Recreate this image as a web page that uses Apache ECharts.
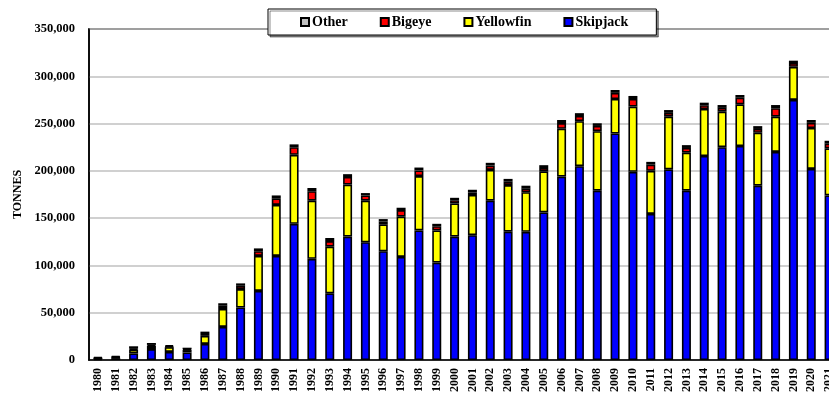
<!DOCTYPE html>
<html>
<head>
<meta charset="utf-8">
<script src="https://cdn.jsdelivr.net/npm/echarts@6/dist/echarts.min.js"></script>
<style>
  html, body { margin: 0; padding: 0; background: #fff; overflow: hidden; }
  #chart { width: 829px; height: 394px; }
</style>
</head>
<body>
<div id="chart"></div>
<script>
// Annual catch by species, tonnes
const years = ['1980','1981','1982','1983','1984','1985','1986','1987','1988','1989',
  '1990','1991','1992','1993','1994','1995','1996','1997','1998','1999',
  '2000','2001','2002','2003','2004','2005','2006','2007','2008','2009',
  '2010','2011','2012','2013','2014','2015','2016','2017','2018','2019',
  '2020','2021'];

const skipjack = [1200, 2000, 7000, 11500, 8500, 8000, 17000, 35000, 55500, 73000,
  110000, 144000, 107000, 70500, 130500, 124500, 115000, 109000, 137000, 103000,
  130500, 132000, 168500, 135700, 135500, 156000, 194000, 205000, 179000, 239500,
  199000, 154500, 201600, 179000, 215700, 225000, 226300, 184300, 220000, 275000,
  202000, 174000];

const yellowfin = [500, 800, 4000, 3500, 5000, 2500, 8500, 19000, 19500, 37000,
  54000, 73000, 61500, 49300, 55000, 44000, 28500, 42500, 57500, 34000,
  35000, 42500, 32500, 49300, 42000, 43500, 50500, 47500, 63000, 36500,
  69000, 45500, 55700, 40200, 49700, 37600, 44000, 56000, 37300, 35000,
  43300, 49800];

const bigeye = [300, 400, 1000, 1000, 800, 800, 2000, 3500, 3500, 5000,
  7000, 8000, 10000, 6000, 8000, 5500, 3000, 7000, 6000, 4500,
  3500, 2500, 4500, 3500, 4000, 3500, 6000, 5500, 5500, 6500,
  8000, 6500, 4000, 5000, 4000, 4000, 7000, 4000, 9000, 4000,
  5500, 5000];

const other = [1000, 1000, 2500, 2000, 1200, 1700, 2500, 2500, 2500, 3000,
  3000, 3000, 3500, 3200, 3000, 2500, 2500, 2500, 3000, 2500,
  2500, 3000, 3000, 3000, 2800, 3000, 3300, 3000, 2800, 3000,
  3200, 3000, 3000, 3000, 2700, 3000, 2900, 3000, 3300, 2500,
  3000, 3000];

const yTicks = { min: 0, max: 350000, interval: 50000 };

const FONT = '"Liberation Serif", "Times New Roman", serif';

function barSeries(name, data, color) {
  return {
    name: name,
    type: 'bar',
    stack: 'catch',
    data: data,
    barWidth: 9,
    itemStyle: { color: color, borderColor: '#000', borderWidth: 1.6 },
    emphasis: { disabled: true }
  };
}

const chart = echarts.init(document.getElementById('chart'), null, { renderer: 'canvas' });

chart.setOption({
  animation: false,
  backgroundColor: '#fff',
  textStyle: { fontFamily: FONT },
  // plot area runs past the right edge of the canvas, clipping the last year
  grid: {
    left: 89, right: -9, top: 29, bottom: 34,
    outerBoundsMode: 'none',
    containLabel: false,
    show: true, borderColor: '#000', borderWidth: 1.5, backgroundColor: 'transparent'
  },
  legend: {
    data: ['Other', 'Bigeye', 'Yellowfin', 'Skipjack'],
    left: 268, top: 9,
    padding: [6, 28, 6, 32],
    itemGap: 32,
    itemWidth: 8, itemHeight: 8,
    icon: 'rect',
    backgroundColor: '#fff',
    borderColor: '#000', borderWidth: 1,
    shadowColor: 'rgba(0,0,0,0.45)', shadowOffsetX: 2, shadowOffsetY: 2, shadowBlur: 0,
    textStyle: { fontFamily: FONT, fontSize: 14, fontWeight: 'bold', color: '#000', padding: [0, 0, 0, -2] }
  },
  xAxis: {
    type: 'category',
    data: years,
    axisLine: { lineStyle: { color: '#000', width: 1.5 } },
    axisTick: { show: false },
    axisLabel: {
      interval: 0, rotate: 90, margin: 8,
      fontFamily: FONT, fontSize: 12, fontWeight: 'bold', color: '#000'
    }
  },
  yAxis: {
    type: 'value',
    min: yTicks.min, max: yTicks.max, interval: yTicks.interval,
    name: 'TONNES',
    nameLocation: 'middle',
    nameGap: 64,
    nameTextStyle: { fontFamily: FONT, fontSize: 12, fontWeight: 'bold', color: '#000' },
    axisLine: { show: true, lineStyle: { color: '#000', width: 1.5 } },
    axisTick: { show: false },
    axisLabel: {
      margin: 14,
      fontFamily: FONT, fontSize: 12.5, fontWeight: 'bold', color: '#000',
      formatter: v => v.toLocaleString('en-US')
    },
    splitLine: { lineStyle: { color: '#c0c0c0', width: 1.5 } }
  },
  series: [
    barSeries('Skipjack', skipjack, '#0000ff'),
    barSeries('Yellowfin', yellowfin, '#ffff00'),
    barSeries('Bigeye', bigeye, '#ff0000'),
    barSeries('Other', other, '#c0c0c0')
  ]
});
</script>
</body>
</html>
